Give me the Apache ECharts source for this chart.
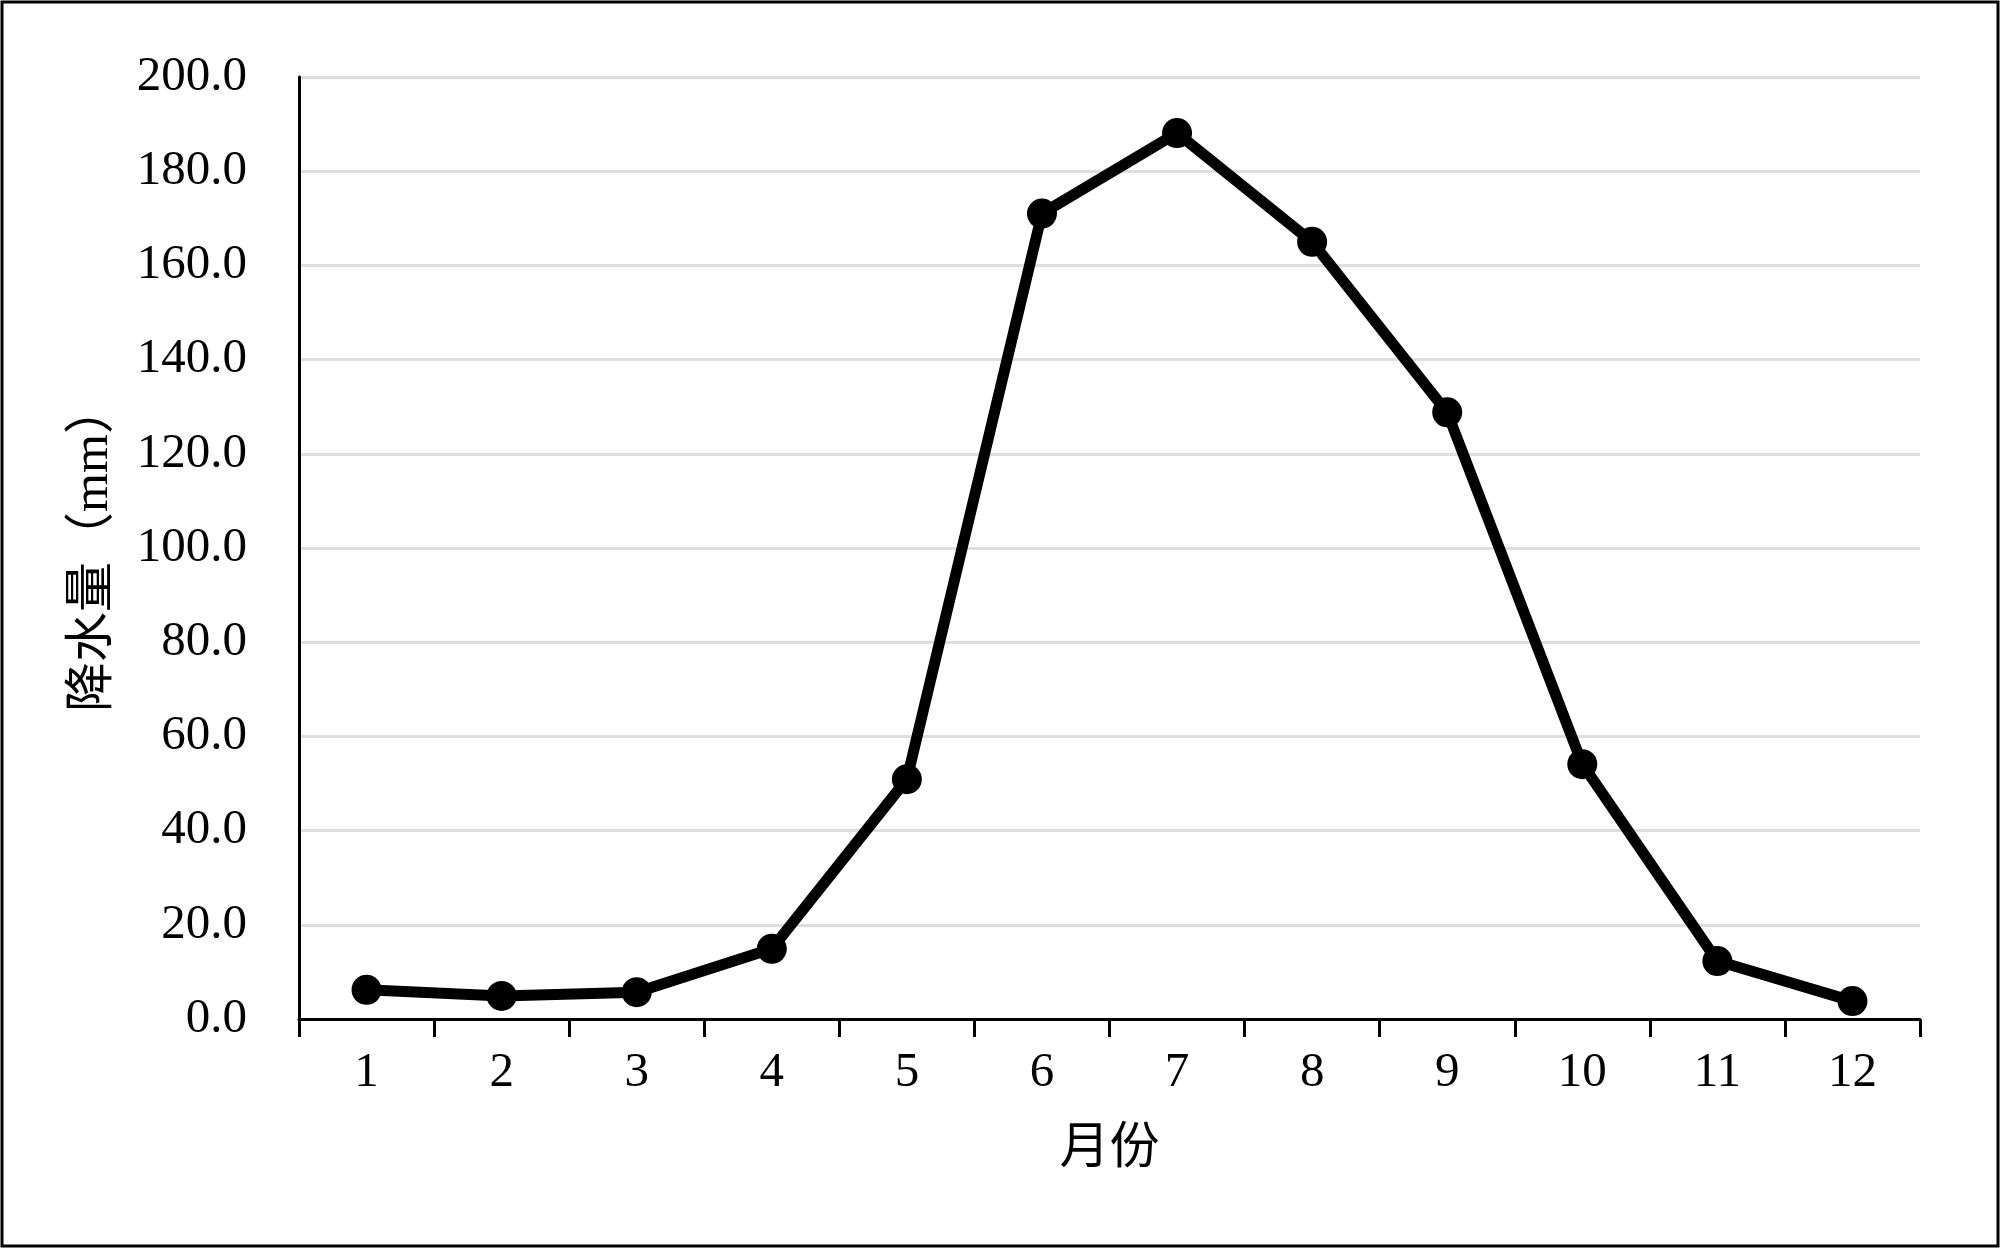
<!DOCTYPE html>
<html>
<head>
<meta charset="utf-8">
<title>降水量</title>
<script src="https://cdn.jsdelivr.net/npm/echarts@6/dist/echarts.min.js"></script>
<style>
    html, body { margin: 0; padding: 0; background: #fff; }
    #chart { width: 2000px; height: 1248px; }
</style>
</head>
<body>
<div id="chart"></div>
<script>
    // 月份
    var months = ['1', '2', '3', '4', '5', '6', '7', '8', '9', '10', '11', '12'];
    // 降水量（mm）
    var rainfall = [6.2, 4.9, 5.7, 14.9, 50.9, 171.0, 188.1, 165.0, 128.8, 54.1, 12.3, 3.8];
    // 纵轴范围
    var yMin = 0;
    var yMax = 200;
    var yStep = 20;

    var fontText = "'Liberation Serif', 'Times New Roman', 'Noto Sans CJK SC', serif";

    var myChart = echarts.init(document.getElementById('chart'));
    myChart.setOption({
        backgroundColor: '#fff',
        animation: false,
        graphic: [{
            type: 'rect',
            shape: { x: 2, y: 2, width: 1996, height: 1244 },
            style: { fill: 'none', stroke: '#000', lineWidth: 3 },
            z: 100
        }],
        grid: {
            left: 299,
            right: 80,
            top: 77,
            bottom: 229,
            containLabel: false
        },
        xAxis: {
            type: 'category',
            data: months,
            boundaryGap: true,
            name: '月份',
            nameLocation: 'middle',
            nameGap: 106,
            nameTextStyle: { fontFamily: fontText, fontSize: 50, color: '#000' },
            axisLine: { show: true, lineStyle: { color: '#000', width: 3 } },
            axisTick: { show: true, length: 18, alignWithLabel: false, lineStyle: { color: '#000', width: 3 } },
            axisLabel: { fontFamily: fontText, fontSize: 49, color: '#000', margin: 30 },
            splitLine: { show: false }
        },
        yAxis: {
            type: 'value',
            min: yMin,
            max: yMax,
            interval: yStep,
            name: '降水量（mm）',
            nameLocation: 'middle',
            nameGap: 180,
            nameRotate: 90,
            nameTextStyle: { fontFamily: fontText, fontSize: 50, color: '#000' },
            axisLine: { show: true, lineStyle: { color: '#000', width: 3 } },
            axisTick: { show: false },
            axisLabel: {
                fontFamily: fontText,
                fontSize: 49,
                color: '#000',
                margin: 52,
                formatter: function (v) { return v.toFixed(1); }
            },
            splitLine: { show: true, lineStyle: { color: '#dedede', width: 3 } }
        },
        series: [{
            name: '降水量',
            type: 'line',
            data: rainfall,
            symbol: 'circle',
            symbolSize: 30,
            lineStyle: { color: '#000', width: 11 },
            itemStyle: { color: '#000' }
        }]
    });
</script>
</body>
</html>
